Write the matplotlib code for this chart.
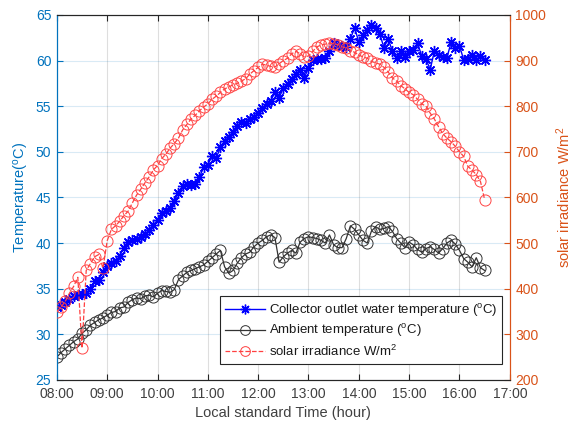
import numpy as np
import matplotlib
matplotlib.use("Agg")
import matplotlib.pyplot as plt
from matplotlib.lines import Line2D

plt.rcParams["font.family"] = ["Liberation Sans", "DejaVu Sans"]
plt.rcParams["mathtext.fontset"] = "custom"
plt.rcParams["mathtext.rm"] = "Liberation Sans"
plt.rcParams["mathtext.it"] = "Liberation Sans:italic"

# Measurements every 5 minutes from 08:00 to 16:30
start_hour = 8.0
step_minutes = 5

collector_temp = [
    33.0, 33.2, 33.5, 33.9, 34.2, 34.3, 34.4, 34.5, 35.0, 35.8, 36.0, 36.8,
    37.5, 37.8, 38.0, 38.6, 39.5, 40.1, 40.3, 40.5, 40.7, 41.0, 41.4, 42.0,
    42.5, 43.3, 43.5, 43.8, 44.6, 45.5, 46.3, 46.5, 46.4, 46.5, 47.2, 48.3,
    48.6, 49.5, 49.3, 50.5, 51.2, 51.6, 52.2, 52.8, 53.3, 53.2, 53.6, 53.8,
    54.3, 54.8, 55.2, 55.6, 56.5, 55.9, 57.0, 57.4, 58.0, 58.5, 59.0, 58.1,
    59.2, 60.1, 60.2, 60.2, 60.3, 61.0, 61.9, 61.7, 61.6, 61.5, 62.4, 63.6,
    62.0, 62.8, 63.3, 63.9, 63.6, 62.9, 61.4, 62.4, 61.0, 60.3, 61.0, 60.4,
    61.0, 61.2, 61.9, 60.5, 60.2, 59.0, 61.0, 60.6, 60.4, 60.3, 62.0, 61.4,
    61.6, 60.1, 60.2, 60.6, 60.1, 60.5, 60.1,
]

ambient_temp = [
    27.5, 28.0, 28.4, 28.8, 29.2, 29.5, 30.1, 30.5, 31.0, 31.3, 31.6, 31.8,
    32.1, 32.4, 32.5, 32.9, 33.0, 33.5, 33.8, 34.0, 33.9, 34.2, 34.3, 34.1,
    34.5, 34.8, 34.7, 34.6, 34.9, 36.0, 36.4, 36.8, 37.0, 37.2, 37.4, 37.6,
    38.0, 38.4, 38.8, 39.2, 37.4, 36.7, 37.0, 37.8, 38.4, 38.8, 39.0, 39.6,
    40.0, 40.3, 40.7, 40.9, 40.6, 37.9, 38.5, 38.9, 39.2, 38.9, 40.1, 40.5,
    40.7, 40.6, 40.5, 40.3, 40.0, 40.9, 39.8, 39.5, 39.5, 40.5, 41.9, 41.5,
    40.9, 40.3, 40.0, 41.3, 41.8, 41.5, 41.6, 41.8, 41.3, 40.5, 40.0, 39.5,
    40.1, 39.8, 39.3, 39.0, 39.4, 39.6, 39.3, 38.9, 39.4, 40.0, 40.3, 39.9,
    39.2, 38.3, 37.9, 37.4, 38.4, 37.3, 37.0,
]

solar_irradiance = [
    350, 360, 372, 390, 405, 425, 270, 440, 455, 470, 475, 445,
    505, 530, 538, 548, 560, 570, 588, 605, 618, 632, 645, 660,
    670, 685, 695, 708, 718, 730, 748, 760, 772, 780, 790, 798,
    805, 815, 822, 830, 838, 842, 847, 850, 855, 860, 870, 878,
    885, 892, 890, 887, 886, 893, 900, 905, 915, 920, 915, 908,
    910, 920, 930, 934, 936, 938, 937, 935, 930, 928, 922, 918,
    912, 908, 905, 898, 895, 892, 885, 875, 862, 855, 845, 838,
    830, 825, 815, 805, 800, 785, 772, 755, 740, 730, 722, 712,
    700, 690, 668, 660, 650, 635, 595,
]

hour_ticks = [8, 9, 10, 11, 12, 13, 14, 15, 16, 17]
hour_labels = ["08:00", "09:00", "10:00", "11:00", "12:00",
               "13:00", "14:00", "15:00", "16:00", "17:00"]
temp_ticks = [25, 30, 35, 40, 45, 50, 55, 60, 65]
irr_ticks = [200, 300, 400, 500, 600, 700, 800, 900, 1000]

n = len(collector_temp)
hours = start_hour + np.arange(n) * step_minutes / 60.0

LEFT_C = "#0072BD"
RIGHT_C = "#D95319"
AX_C = "#262626"
ASTERISK = (8, 2, 0)

fig = plt.figure(figsize=(5.8, 4.26), dpi=100)
ax = fig.add_axes([0.098, 0.108, 0.781, 0.857])
ax2 = ax.twinx()

ax.plot(hours, collector_temp, "-", color="#0000FF", lw=1.0,
        marker=ASTERISK, ms=8, mew=1.0, zorder=4)
ax.plot(hours, ambient_temp, "-", color="#333333", lw=0.9,
        marker="o", ms=8, mfc="none", mec="#333333", mew=0.7, zorder=3)
ax2.plot(hours, solar_irradiance, "--", color="#FF4040", lw=0.9,
         marker="o", ms=8, mfc="none", mec="#FF4545", mew=0.7, zorder=3)

ax.set_xlim(8, 17)
ax.set_ylim(25, 65)
ax2.set_ylim(200, 1000)
ax.set_xticks(hour_ticks)
ax.set_xticklabels(hour_labels)
ax.set_yticks(temp_ticks)
ax2.set_yticks(irr_ticks)

# grid: vertical grey, horizontal tinted with the left axis colour
ax.xaxis.grid(True, color=AX_C, alpha=0.15, lw=0.8)
ax.yaxis.grid(True, color=LEFT_C, alpha=0.15, lw=0.8)
ax.set_axisbelow(True)

for a in (ax, ax2):
    a.spines["top"].set_color(AX_C)
    a.spines["bottom"].set_color(AX_C)
    a.spines["left"].set_color(LEFT_C)
    a.spines["right"].set_color(RIGHT_C)
    for s in a.spines.values():
        s.set_linewidth(0.8)

ax.tick_params(axis="x", direction="in", top=True, colors=AX_C,
               labelcolor="#404040", labelsize=10, length=4, width=0.8, pad=5)
ax.tick_params(axis="y", direction="in", colors=LEFT_C, labelcolor=LEFT_C,
               labelsize=10, length=4, width=0.8, pad=4)
ax2.tick_params(axis="y", direction="in", colors=RIGHT_C, labelcolor=RIGHT_C,
                labelsize=10, length=4, width=0.8, pad=4)

ax.set_xlabel("Local standard Time (hour)", fontsize=10.5, color="#404040",
              labelpad=4)
ax.set_ylabel(r"Temperature($^{\rm o}$C)", fontsize=10.5, color=LEFT_C,
              labelpad=3)
ax2.set_ylabel(r"solar irradiance W/m$^{2}$", fontsize=10.5, color=RIGHT_C,
               labelpad=6)

handles = [
    Line2D([], [], color="#0000FF", lw=1.0, marker=ASTERISK, ms=7, mew=1.0),
    Line2D([], [], color="#333333", lw=0.9, marker="o", ms=7,
           mfc="none", mew=0.7),
    Line2D([], [], color="#FF4040", lw=0.9, ls="--", marker="o", ms=7,
           mfc="none", mew=0.7),
]
labels = [
    r"Collector outlet water temperature ($^{\rm o}$C)",
    r"Ambient temperature ($^{\rm o}$C)",
    r"solar irradiance W/m$^{2}$",
]
leg = ax2.legend(handles, labels, loc="lower left",
                 bbox_to_anchor=(0.36, 0.044), fontsize=9.5, frameon=True,
                 fancybox=False, edgecolor=AX_C, framealpha=1,
                 handlelength=3.0, handletextpad=0.3, borderpad=0.4,
                 labelspacing=0.3, borderaxespad=0)
leg.get_frame().set_linewidth(0.8)
for t in leg.get_texts():
    t.set_color("#1a1a1a")

fig.savefig("out.png", dpi=100)
